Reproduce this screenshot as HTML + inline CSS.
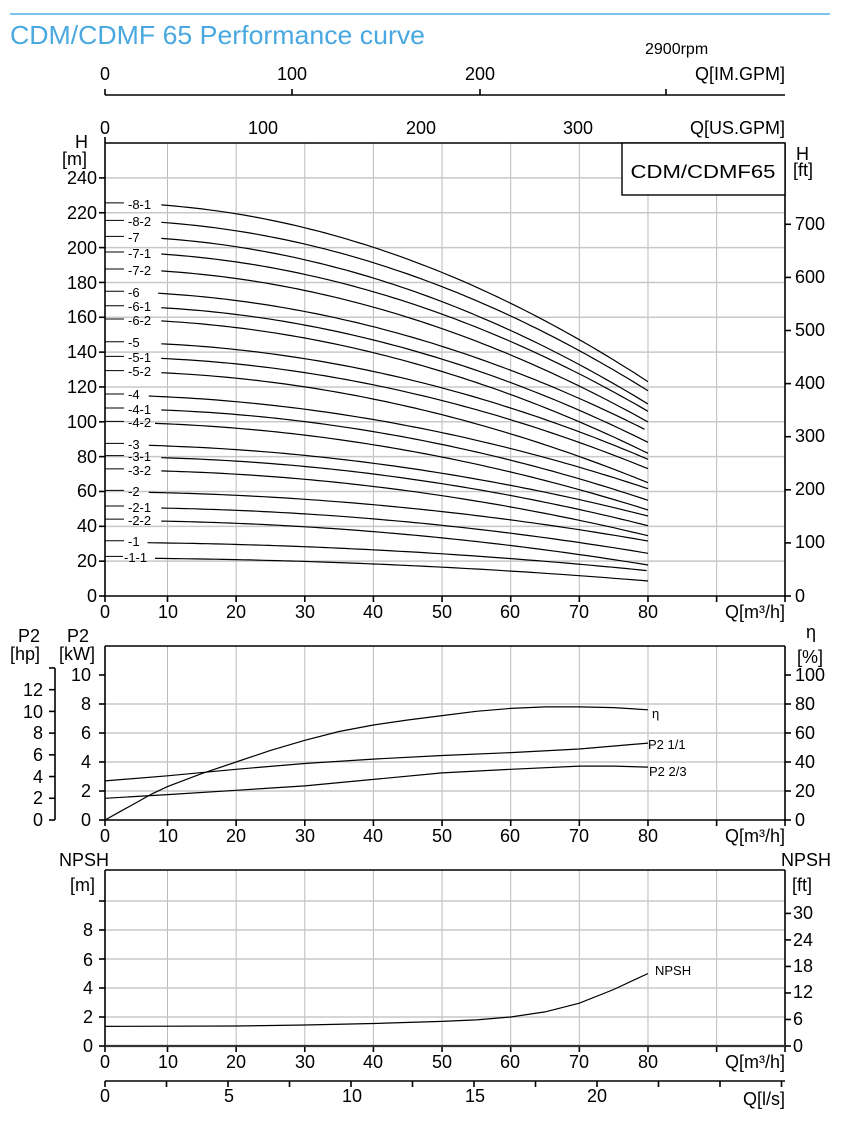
<!DOCTYPE html>
<html><head><meta charset="utf-8"><style>
html,body{margin:0;padding:0;background:#fff;}
svg{display:block;font-family:"Liberation Sans",Arial,sans-serif;}
.t{font-size:18px;fill:#000;}
.s{font-size:13px;fill:#000;}
.g{stroke:#bbb;stroke-width:1;fill:none;}
.gh{stroke:#c8c8c8;stroke-width:1.5;fill:none;}
.ax{stroke:#000;stroke-width:1.6;fill:none;}
.c{stroke:#000;stroke-width:1.2;fill:none;}
</style></head><body>
<svg id="s" width="850" height="1123" viewBox="0 0 850 1123">
<line x1="10" y1="14" x2="830" y2="14" stroke="#7cc4ee" stroke-width="2"/>
<text x="10" y="44" font-size="26" fill="#4aa8e0" textLength="415" lengthAdjust="spacingAndGlyphs">CDM/CDMF 65 Performance curve</text>
<text x="645" y="54" style="font-size:16px" fill="#000">2900rpm</text>
<line x1="105" y1="95" x2="785" y2="95" class="ax"/>
<g class="ax"><line x1="105" y1="89" x2="105" y2="95"/><line x1="292" y1="89" x2="292" y2="95"/><line x1="480" y1="89" x2="480" y2="95"/><line x1="666" y1="89" x2="666" y2="95"/></g>
<g class="t" text-anchor="middle"><text x="105" y="80">0</text><text x="292" y="80">100</text><text x="480" y="80">200</text></g>
<text x="785" y="80" class="t" text-anchor="end">Q[IM.GPM]</text>
<g class="t" text-anchor="middle"><text x="105" y="134">0</text><text x="263" y="134">100</text><text x="421" y="134">200</text><text x="578" y="134">300</text></g>
<text x="785" y="134" class="t" text-anchor="end">Q[US.GPM]</text>
<g id="grids"></g>
<line x1="105" y1="143" x2="785" y2="143" class="ax"/>
<line x1="105" y1="143" x2="105" y2="596" class="ax"/>
<line x1="785" y1="143" x2="785" y2="596" class="ax"/>
<line x1="105" y1="596" x2="785" y2="596" class="ax"/>
<rect x="622" y="143" width="163" height="52" fill="#fff" stroke="#000" stroke-width="1.4"/>
<text x="703" y="178" class="t" font-size="20" text-anchor="middle" textLength="145" lengthAdjust="spacingAndGlyphs">CDM/CDMF65</text>
<text x="75" y="148" class="t">H</text><text x="62" y="165" class="t">[m]</text>
<text x="796" y="160" class="t">H</text><text x="793" y="176" class="t">[ft]</text>
<g class="t" text-anchor="end">
<text x="97" y="184">240</text><text x="97" y="219">220</text><text x="97" y="254">200</text><text x="97" y="289">180</text><text x="97" y="323">160</text><text x="97" y="358">140</text><text x="97" y="393">120</text><text x="97" y="428">100</text><text x="97" y="463">80</text><text x="97" y="497">60</text><text x="97" y="532">40</text><text x="97" y="567">20</text><text x="97" y="602">0</text>
</g>
<g class="t"><text x="795" y="230">700</text><text x="795" y="283">600</text><text x="795" y="336">500</text><text x="795" y="389">400</text><text x="795" y="442">300</text><text x="795" y="495">200</text><text x="795" y="548">100</text><text x="795" y="602">0</text></g>
<g id="curves"></g>
<line x1="105" y1="646" x2="785" y2="646" class="ax"/>
<line x1="105" y1="646" x2="105" y2="820" class="ax"/>
<line x1="785" y1="646" x2="785" y2="820" class="ax"/>
<line x1="105" y1="820" x2="785" y2="820" class="ax"/>
<line x1="55" y1="668" x2="55" y2="820" class="ax"/>
<text x="18" y="642" class="t">P2</text><text x="10" y="660" class="t">[hp]</text>
<text x="67" y="642" class="t">P2</text><text x="59" y="660" class="t">[kW]</text>
<text x="806" y="638" class="t">η</text><text x="797" y="663" class="t">[%]</text>
<g class="t" text-anchor="end"><text x="91" y="681">10</text><text x="91" y="710">8</text><text x="91" y="739">6</text><text x="91" y="768">4</text><text x="91" y="797">2</text><text x="91" y="826">0</text>
<text x="43" y="696">12</text><text x="43" y="718">10</text><text x="43" y="739">8</text><text x="43" y="761">6</text><text x="43" y="783">4</text><text x="43" y="804">2</text><text x="43" y="826">0</text></g>
<g class="t"><text x="795" y="681">100</text><text x="795" y="710">80</text><text x="795" y="739">60</text><text x="795" y="768">40</text><text x="795" y="797">20</text><text x="795" y="826">0</text></g>
<text x="652" y="718" class="s">η</text><text x="648" y="749" class="s">P2 1/1</text><text x="649" y="776" class="s">P2 2/3</text>
<line x1="105" y1="870" x2="785" y2="870" class="ax"/>
<line x1="105" y1="870" x2="105" y2="1046" class="ax"/>
<line x1="785" y1="870" x2="785" y2="1046" class="ax"/>
<line x1="105" y1="1046" x2="785" y2="1046" stroke="#333" stroke-width="2.2"/>
<text x="59" y="866" class="t">NPSH</text><text x="70" y="891" class="t">[m]</text>
<text x="781" y="866" class="t">NPSH</text><text x="792" y="891" class="t">[ft]</text>
<g class="t" text-anchor="end"><text x="93" y="936">8</text><text x="93" y="966">6</text><text x="93" y="994">4</text><text x="93" y="1023">2</text><text x="93" y="1052">0</text></g>
<g class="t"><text x="793" y="919">30</text><text x="793" y="946">24</text><text x="793" y="972">18</text><text x="793" y="998">12</text><text x="793" y="1025">6</text><text x="793" y="1052">0</text></g>
<text x="655" y="975" class="s">NPSH</text>
<line x1="105" y1="1081" x2="785" y2="1081" class="ax"/>
<g class="t" text-anchor="middle"><text x="105" y="1102">0</text><text x="229" y="1102">5</text><text x="352" y="1102">10</text><text x="475" y="1102">15</text><text x="597" y="1102">20</text></g>
<text x="785" y="1105" class="t" text-anchor="end">Q[l/s]</text>
<g class="t" text-anchor="middle">
<text x="105" y="618">0</text><text x="168" y="618">10</text><text x="236" y="618">20</text><text x="305" y="618">30</text><text x="373" y="618">40</text><text x="442" y="618">50</text><text x="510" y="618">60</text><text x="579" y="618">70</text><text x="648" y="618">80</text>
<text x="105" y="842">0</text><text x="168" y="842">10</text><text x="236" y="842">20</text><text x="305" y="842">30</text><text x="373" y="842">40</text><text x="442" y="842">50</text><text x="510" y="842">60</text><text x="579" y="842">70</text><text x="648" y="842">80</text>
<text x="105" y="1068">0</text><text x="168" y="1068">10</text><text x="236" y="1068">20</text><text x="305" y="1068">30</text><text x="373" y="1068">40</text><text x="442" y="1068">50</text><text x="510" y="1068">60</text><text x="579" y="1068">70</text><text x="648" y="1068">80</text>
</g>
<g class="t" text-anchor="end"><text x="785" y="618">Q[m³/h]</text><text x="785" y="842">Q[m³/h]</text><text x="785" y="1068">Q[m³/h]</text></g>
<g font-size="13" fill="#000">
<text x="128" y="209">-8-1</text><text x="128" y="226">-8-2</text><text x="128" y="242">-7</text><text x="128" y="258">-7-1</text><text x="128" y="275">-7-2</text><text x="128" y="297">-6</text><text x="128" y="311">-6-1</text><text x="128" y="325">-6-2</text><text x="128" y="347">-5</text><text x="128" y="362">-5-1</text><text x="128" y="376">-5-2</text><text x="128" y="399">-4</text><text x="128" y="414">-4-1</text><text x="128" y="427">-4-2</text><text x="128" y="449">-3</text><text x="128" y="461">-3-1</text><text x="128" y="475">-3-2</text><text x="128" y="496">-2</text><text x="128" y="512">-2-1</text><text x="128" y="525">-2-2</text><text x="128" y="546">-1</text><text x="124" y="562">-1-1</text>
</g>
</svg>
<script>
var NS="http://www.w3.org/2000/svg",svg=document.getElementById('s');
function X(q){return q<10?105+q*6.25:167.5+(q-10)*6.864;}
function el(t,a,p){var e=document.createElementNS(NS,t);for(var k in a)e.setAttribute(k,a[k]);(p||svg).appendChild(e);return e;}
var G=document.getElementById('grids');
var xs=[10,20,30,40,50,60,70,80,90];
function vgrid(y1,y2){xs.forEach(function(q){el('line',{x1:X(q),x2:X(q),y1:y1,y2:y2,'class':'g'},G);});}
vgrid(143,596);vgrid(646,820);vgrid(870,1046);
for(var h=20;h<=240;h+=20){var y=596-h*1.742;el('line',{x1:105,x2:785,y1:y,y2:y,'class':'gh'},G);el('line',{x1:99,x2:105,y1:y,y2:y,'class':'ax'},G);}
el('line',{x1:99,x2:105,y1:596,y2:596,'class':'ax'},G);
for(var f=0;f<=700;f+=100){var y=596-f*0.531;el('line',{x1:785,x2:791,y1:y,y2:y,'class':'ax'},G);}
[2,4,6,8].forEach(function(k){var y=820-k*14.5;el('line',{x1:105,x2:785,y1:y,y2:y,'class':'gh'},G);});
for(var k=0;k<=10;k+=2){var y=820-k*14.5;el('line',{x1:99,x2:105,y1:y,y2:y,'class':'ax'},G);el('line',{x1:785,x2:791,y1:y,y2:y,'class':'ax'},G);}
for(var k=0;k<=14;k+=2){var y=820-k*10.86;el('line',{x1:49,x2:55,y1:y,y2:y,'class':'ax'},G);}
[2,4,6,8,10].forEach(function(k){var y=1046-k*14.5;el('line',{x1:105,x2:785,y1:y,y2:y,'class':'gh'},G);});
for(var k=0;k<=10;k+=2){var y=1046-k*14.5;el('line',{x1:99,x2:105,y1:y,y2:y,'class':'ax'},G);}
for(var k=0;k<=30;k+=6){var y=1046-k*4.42;el('line',{x1:785,x2:791,y1:y,y2:y,'class':'ax'},G);}
xs.concat([0,100]).forEach(function(q){var x=q==100?785:X(q);el('line',{x1:x,x2:x,y1:596,y2:602,'class':'ax'},G);el('line',{x1:x,x2:x,y1:820,y2:826,'class':'ax'},G);el('line',{x1:x,x2:x,y1:1046,y2:1052,'class':'ax'},G);});
el('line',{x1:105,x2:105,y1:137,y2:143,'class':'ax'},G);
for(var l=0;l<=27.5;l+=2.5){var x=105+l*24.6;if(x>786)break;el('line',{x1:x,x2:x,y1:1081,y2:1087,'class':'ax'},G);}
var C=document.getElementById('curves');
var S=[224.5,214.5,205.3,196.3,186.6,173.8,165.5,157.9,144.8,136.4,128.2,114.8,106.8,99.1,86.5,79.4,71.8,59.5,50.5,43.0,30.6,21.6];
var EY=[381.7,390.7,404,411.3,422,431,442.3,453.3,459.3,468.7,482.7,488.7,500.3,510,516,525.7,535.7,541,553.3,565,570.7,581];
var Q0=[9,9,9,9,9,8.5,9,9,9,9,9,7,9,8,7,9,9,7,9,9,6.8,8];
for(var i=0;i<22;i++){var H0=S[i],HE=(596-EY[i])/1.742,q0=Q0[i];var d='';
for(var q=q0;q<=80.01;q+=1){var t=(q-q0)/(80-q0);var H=H0-(H0-HE)*(0.2*t+0.8*t*t);d+=(q==q0?'M':'L')+X(q).toFixed(1)+' '+(596-H*1.742).toFixed(1);}
el('path',{d:d,'class':'c'},C);
var y0=596-H0*1.742-2;el('line',{x1:105,x2:i==21?123:124,y1:y0,y2:y0,stroke:'#000','stroke-width':1},C);}
function pl(pts,f){var d='';pts.forEach(function(p,i){d+=(i?'L':'M')+X(p[0]).toFixed(1)+' '+f(p[1]).toFixed(1);});el('path',{d:d,'class':'c'},C);}
var kw=function(v){return 820-v*14.5;};
pl([[0,0],[2.5,6],[5,12],[7.5,18],[10,23],[15,32],[20,40],[25,48],[30,55],[35,61],[40,65.5],[45,69],[50,72],[55,75],[60,77],[65,78],[70,78],[75,77.5],[80,76]].map(function(p){return [p[0],p[1]/10];}),kw);
pl([[0,2.7],[10,3.05],[20,3.5],[30,3.9],[40,4.2],[50,4.45],[60,4.65],[70,4.9],[80,5.3]],kw);
pl([[0,1.5],[10,1.75],[20,2.05],[30,2.35],[40,2.8],[50,3.25],[60,3.5],[70,3.72],[75,3.72],[80,3.65]],kw);
pl([[0,1.35],[20,1.38],[30,1.45],[40,1.55],[50,1.7],[55,1.8],[60,2.0],[65,2.35],[70,2.95],[75,3.9],[80,5.0]],function(v){return 1046-v*14.5;});
</script>
</body></html>
